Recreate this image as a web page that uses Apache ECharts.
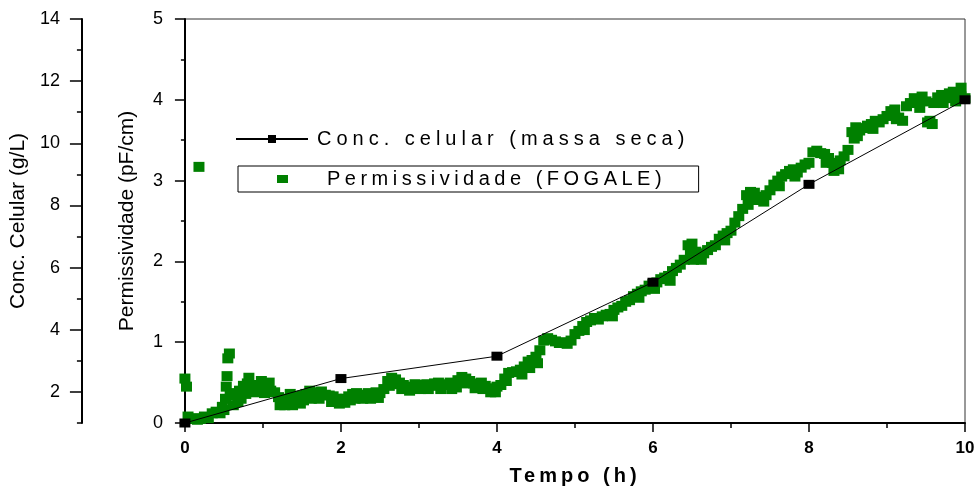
<!DOCTYPE html>
<html><head><meta charset="utf-8">
<script src="https://cdn.jsdelivr.net/npm/echarts@6/dist/echarts.min.js"></script>
<style>html,body{margin:0;padding:0;background:#fff}#c{width:979px;height:493px}</style>
</head><body><div id="c"></div>
<script>
// letter-spacing helper for texts whose font family list carries a "lspNN" marker
(function(){
  var P = CanvasRenderingContext2D.prototype, ft = P.fillText;
  P.fillText = function(t, x, y, m){
    var mm = /lsp(\d+)/.exec(this.font || '');
    try { this.letterSpacing = mm ? (mm[1] / 10) + 'px' : '0px'; } catch (e) {}
    return m === undefined ? ft.call(this, t, x, y) : ft.call(this, t, x, y, m);
  };
})();

// ---- data ----
var concTime  = [0, 2, 4, 6, 8, 10];
var concValue = [1.0, 2.43, 3.15, 5.53, 8.68, 11.40];

var permTime = [
  0.00,0.02,0.04,0.08,0.12,0.16,0.18,0.20,0.25,0.30,0.35,0.40,0.45,0.48,0.50,0.52,0.53,0.54,0.55,0.57,
  0.58,0.60,0.65,0.70,0.75,0.80,0.85,0.90,0.95,1.00,1.05,1.10,1.15,1.20,1.25,1.30,1.35,1.40,1.45,1.50,
  1.55,1.60,1.65,1.70,1.75,1.80,1.85,1.90,1.95,2.00,2.05,2.10,2.15,2.20,2.25,2.30,2.35,2.40,2.45,2.50,
  2.55,2.60,2.65,2.70,2.75,2.80,2.85,2.90,2.95,3.00,3.05,3.10,3.15,3.20,3.25,3.30,3.35,3.40,3.45,3.50,
  3.55,3.60,3.65,3.70,3.75,3.80,3.85,3.90,3.95,4.00,4.05,4.10,4.15,4.20,4.25,4.30,4.35,4.40,4.45,4.50,
  4.55,4.60,4.65,4.70,4.75,4.80,4.85,4.90,4.95,5.00,5.05,5.10,5.15,5.20,5.25,5.30,5.35,5.40,5.45,5.50,
  5.55,5.60,5.65,5.70,5.75,5.80,5.85,5.90,5.95,6.00,6.05,6.10,6.15,6.20,6.25,6.30,6.35,6.40,6.45,6.50,
  6.55,6.60,6.65,6.70,6.75,6.80,6.85,6.90,6.95,7.00,7.05,7.10,7.15,7.20,7.25,7.30,7.35,7.40,7.45,7.50,
  7.55,7.60,7.65,7.70,7.75,7.80,7.85,7.90,7.95,8.00,8.05,8.10,8.15,8.20,8.25,8.30,8.35,8.40,8.45,8.50,
  8.55,8.60,8.65,8.70,8.75,8.80,8.85,8.90,8.95,9.00,9.05,9.10,9.15,9.20,9.25,9.30,9.35,9.40,9.45,9.50,
  9.55,9.60,9.65,9.70,9.75,9.80,9.85,9.90,9.95,10.00,
  0.62,0.68,0.72,0.78,0.88,1.02,1.28,1.32,1.42,1.52,1.98,2.05,2.28,2.62,2.72,3.02,3.42,3.58,3.92,4.12,
  4.32,4.42,4.52,5.12,5.48,5.82,6.02,6.22,6.48,6.52,6.62,6.92,7.22,7.32,7.42,7.62,7.82,8.22,8.32,8.38,
  8.58,8.62,8.82,9.12,9.42,9.52,9.58,9.72,9.88,9.95,
  1.22,1.38,1.48,1.62,1.72,1.88,2.12,2.18,2.38,2.48,2.78,2.88,3.12,3.28,3.48,3.72,3.82,3.98,
  0.82,0.98,1.08
];
var permValue = [
  0.55,0.45,0.08,0.05,0.06,0.04,3.17,0.05,0.08,0.06,0.12,0.14,0.12,0.20,0.16,0.30,0.45,0.58,0.80,0.86,
  0.36,0.34,0.37,0.40,0.46,0.49,0.47,0.44,0.45,0.43,0.44,0.40,0.38,0.32,0.28,0.30,0.36,0.33,0.30,0.34,
  0.36,0.40,0.38,0.37,0.39,0.35,0.34,0.33,0.30,0.28,0.30,0.33,0.36,0.37,0.34,0.35,0.37,0.36,0.38,0.37,
  0.42,0.52,0.56,0.54,0.50,0.47,0.44,0.45,0.48,0.47,0.45,0.48,0.46,0.49,0.50,0.47,0.48,0.50,0.47,0.53,
  0.57,0.55,0.52,0.49,0.48,0.50,0.46,0.43,0.42,0.45,0.47,0.55,0.62,0.63,0.64,0.66,0.70,0.76,0.78,0.82,
  0.90,1.02,1.05,1.03,1.01,0.99,1.00,0.98,1.02,1.10,1.14,1.20,1.25,1.27,1.30,1.28,1.32,1.34,1.35,1.40,
  1.43,1.45,1.50,1.52,1.57,1.60,1.63,1.65,1.70,1.72,1.74,1.78,1.80,1.82,1.88,1.92,1.96,2.02,2.20,2.22,
  2.12,2.08,2.10,2.14,2.18,2.20,2.28,2.32,2.35,2.38,2.48,2.56,2.65,2.82,2.86,2.85,2.80,2.78,2.82,2.88,
  2.95,3.00,3.05,3.08,3.12,3.14,3.10,3.16,3.20,3.22,3.35,3.37,3.34,3.33,3.28,3.22,3.20,3.25,3.30,3.38,
  3.60,3.66,3.62,3.65,3.68,3.70,3.74,3.72,3.76,3.80,3.86,3.88,3.78,3.74,3.92,3.96,4.02,4.00,4.04,3.98,
  3.74,3.96,4.03,4.06,4.02,4.08,4.10,4.06,4.04,4.02,
  0.22,0.26,0.30,0.36,0.38,0.37,0.22,0.24,0.25,0.28,0.24,0.25,0.30,0.46,0.48,0.42,0.42,0.49,0.38,0.52,
  0.60,0.68,0.74,1.15,1.32,1.55,1.66,1.76,2.08,2.02,2.02,2.26,2.70,2.76,2.74,2.93,3.05,3.22,3.12,3.14,
  3.52,3.55,3.64,3.76,3.90,3.72,3.70,3.96,3.98,4.15,
  0.22,0.22,0.24,0.30,0.30,0.26,0.28,0.30,0.30,0.31,0.42,0.40,0.42,0.42,0.44,0.43,0.42,0.38,
  0.56,0.52,0.50
];

var xTicks = [0, 2, 4, 6, 8, 10];
var concMajorTicks = [2, 4, 6, 8, 10, 12, 14];

// ---- chart ----
var FONT = 'Liberation Sans';
var chart = echarts.init(document.getElementById('c'), null, {renderer: 'canvas'});
var permData = permTime.map(function(t, i){ return [t, permValue[i]]; });
var concData = concTime.map(function(t, i){ return [t, concValue[i]]; });

chart.setOption({
  animation: false,
  backgroundColor: '#fff',
  grid: {left: 183, right: 14, top: 19, bottom: 70, show: true, borderColor: '#333', borderWidth: 1},
  xAxis: {
    type: 'value', min: xTicks[0], max: xTicks[xTicks.length - 1], interval: 2,
    splitLine: {show: false},
    axisLine: {show: true, lineStyle: {color: '#000', width: 2}},
    axisTick: {show: true, length: 9, lineStyle: {color: '#000', width: 1.5}},
    minorTick: {show: true, splitNumber: 2, length: 5, lineStyle: {color: '#000', width: 1.5}},
    axisLabel: {margin: 17, color: '#000', fontFamily: FONT, fontWeight: 'bold', fontSize: 17},
    name: 'Tempo (h)', nameLocation: 'middle', nameGap: 43,
    nameTextStyle: {fontFamily: "'Liberation Sans', lsp40", fontWeight: 'bold', fontSize: 20, color: '#000'}
  },
  yAxis: [
    {
      type: 'value', position: 'left', min: 0, max: 5, interval: 1,
      splitLine: {show: false},
      axisLine: {show: true, lineStyle: {color: '#000', width: 2}},
      axisTick: {show: true, length: 10, lineStyle: {color: '#000', width: 1.5}},
      minorTick: {show: true, splitNumber: 2, length: 4, lineStyle: {color: '#000', width: 1.5}},
      axisLabel: {margin: 22, color: '#000', fontFamily: FONT, fontSize: 18},
      name: 'Permissividade (pF/cm)', nameLocation: 'middle', nameGap: 47,
      nameTextStyle: {fontFamily: FONT, fontSize: 21, color: '#000'}
    },
    {
      type: 'value', position: 'left', offset: 103, min: 1, max: 14, interval: 1,
      splitLine: {show: false},
      axisLine: {show: true, onZero: false, lineStyle: {color: '#000', width: 2}},
      axisTick: {show: true, length: 5, lineStyle: {color: '#000', width: 1.5}},
      axisLabel: {margin: 22, color: '#000', fontFamily: FONT, fontSize: 18,
        formatter: function(v){ return concMajorTicks.indexOf(v) >= 0 ? String(v) : ''; }},
      name: 'Conc. Celular (g/L)', nameLocation: 'middle', nameGap: 44,
      nameTextStyle: {fontFamily: FONT, fontSize: 21, color: '#000'}
    },
    {
      type: 'value', position: 'left', offset: 103, min: 1, max: 14, interval: 1,
      splitLine: {show: false},
      axisLine: {show: false},
      axisLabel: {show: false},
      axisTick: {show: true, length: 12, customValues: concMajorTicks, lineStyle: {color: '#000', width: 1.5}}
    }
  ],
  legend: [
    {
      data: ['Conc. celular (massa seca)'], left: 235, top: 129, padding: 0,
      itemWidth: 72, itemHeight: 10, selectedMode: false,
      textStyle: {fontFamily: "'Liberation Sans', lsp50", fontSize: 20, color: '#000', padding: [0, 0, 0, 4]}
    },
    {
      data: ['Permissividade (FOGALE)'], left: 238, top: 166, padding: [3, 136, 3, 39],
      itemWidth: 11, itemHeight: 8, icon: 'rect', selectedMode: false,
      borderColor: '#000', borderWidth: 1,
      textStyle: {fontFamily: "'Liberation Sans', lsp45", fontSize: 20, color: '#000', padding: [0, 0, 0, 34]}
    }
  ],
  series: [
    {
      name: 'Permissividade (FOGALE)', type: 'scatter', yAxisIndex: 0, data: permData,
      symbol: 'rect', symbolSize: [11, 10], itemStyle: {color: '#008000', opacity: 1}
    },
    {
      name: 'Conc. celular (massa seca)', type: 'line', yAxisIndex: 1, data: concData,
      symbol: 'rect', symbolSize: [11, 9], showSymbol: true,
      lineStyle: {color: '#000', width: 1}, itemStyle: {color: '#000'}
    }
  ]
});
</script></body></html>
